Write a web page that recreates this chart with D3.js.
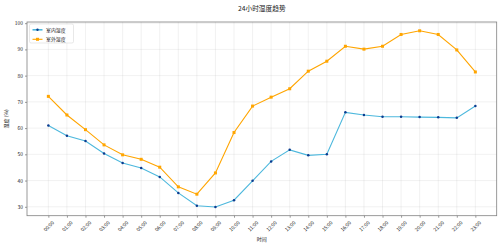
<!DOCTYPE html>
<html><head><meta charset="utf-8">
<script src="https://cdn.jsdelivr.net/npm/d3@7"></script>
<style>body{margin:0;background:#fff}svg{display:block}text{font-family:"Noto Sans CJK SC","DejaVu Sans",sans-serif}</style>
</head><body><svg id="c" width="500" height="248"></svg>
<script>
const hours = ["00:00","01:00","02:00","03:00","04:00","05:00","06:00","07:00","08:00","09:00","10:00","11:00","12:00","13:00","14:00","15:00","16:00","17:00","18:00","19:00","20:00","21:00","22:00","23:00"];
const indoor = [61.0,57.1,55.1,50.3,46.7,44.8,41.4,35.3,30.4,29.9,32.5,39.9,47.3,51.7,49.6,50.0,66.0,65.0,64.3,64.3,64.2,64.1,63.9,68.4];
const outdoor = [72.1,65.0,59.4,53.6,49.8,48.1,45.1,37.6,34.8,42.9,58.3,68.4,71.8,75.0,81.7,85.5,91.2,90.1,91.2,95.7,97.1,95.7,89.8,81.4];
const yTicks = [30,40,50,60,70,80,90,100];
const seriesNames = ["室内湿度","室外湿度"];

const svg = d3.select("#c");
const L=27, R=496.7, T=22, B=215.7;
const x = d3.scaleLinear().domain([-1.15, 23+1.15]).range([L,R]);
const y = d3.scaleLinear().domain([26.6, 100.45]).range([B,T]);

// grid
const g = svg.append("g");
g.selectAll(".gx").data(hours).join("line")
  .attr("x1",(d,i)=>x(i)).attr("x2",(d,i)=>x(i)).attr("y1",T).attr("y2",B)
  .attr("stroke","#b0b0b0").attr("stroke-opacity",0.3).attr("stroke-width",0.6);
g.selectAll(".gy").data(yTicks).join("line")
  .attr("x1",L).attr("x2",R).attr("y1",d=>y(d)).attr("y2",d=>y(d))
  .attr("stroke","#b0b0b0").attr("stroke-opacity",0.3).attr("stroke-width",0.6);

// axes
const xAxis = svg.append("g").attr("transform",`translate(0,${B})`)
  .call(d3.axisBottom(x).tickValues(d3.range(24)).tickFormat(i=>hours[i]).tickSize(2).tickPadding(2));
xAxis.select(".domain").remove();
xAxis.selectAll("line").attr("stroke","#333").attr("stroke-width",0.5);
xAxis.selectAll(".tick text").attr("font-size",5).attr("fill","#222")
  .attr("text-anchor","middle").attr("y",0).attr("dy","0.35em")
  .attr("transform","translate(0,10.5) rotate(-45)");

const yAxis = svg.append("g").attr("transform",`translate(${L},0)`)
  .call(d3.axisLeft(y).tickValues(yTicks).tickSize(2).tickPadding(2));
yAxis.select(".domain").remove();
yAxis.selectAll("line").attr("stroke","#333").attr("stroke-width",0.5);
yAxis.selectAll("text").attr("font-size",4.9).attr("fill","#222");

svg.append("rect").attr("x",L).attr("y",T).attr("width",R-L).attr("height",B-T)
  .attr("fill","none").attr("stroke","#808080").attr("stroke-width",0.8);

// lines
const line = d3.line().x((d,i)=>x(i)).y(d=>y(d));
svg.append("path").datum(indoor).attr("d",line).attr("fill","none").attr("stroke","#4db8dd").attr("stroke-width",1.1);
svg.append("path").datum(outdoor).attr("d",line).attr("fill","none").attr("stroke","#ffa500").attr("stroke-width",1.1);
svg.selectAll(".mi").data(indoor).join("circle")
  .attr("cx",(d,i)=>x(i)).attr("cy",d=>y(d)).attr("r",1.25).attr("fill","#0b3b8f");
svg.selectAll(".mo").data(outdoor).join("rect")
  .attr("x",(d,i)=>x(i)-1.5).attr("y",d=>y(d)-1.5).attr("width",3).attr("height",3).attr("fill","#ffa500");

// title & labels
svg.append("text").attr("x",(L+R)/2).attr("y",10.5).attr("text-anchor","middle")
  .attr("font-size",6.7).attr("fill","#222").text("24小时湿度趋势");
svg.append("text").attr("transform",`translate(8,${(T+B)/2}) rotate(-90)`).attr("text-anchor","middle")
  .attr("font-size",5).attr("fill","#222").text("湿度 (%)");
svg.append("text").attr("x",(L+R)/2).attr("y",241).attr("text-anchor","middle")
  .attr("font-size",5).attr("fill","#222").text("时间");

// legend
const lg = svg.append("g").attr("transform","translate(29.5,24)");
lg.append("rect").attr("width",44).attr("height",19).attr("rx",1.5).attr("fill","#fff").attr("fill-opacity",0.8)
  .attr("stroke","#d0d0d0").attr("stroke-width",0.5);
const cols = [["#4db8dd","#0b3b8f","circle"],["#ffa500","#ffa500","rect"]];
seriesNames.forEach((n,i)=>{
  const yy = 5.8 + i*9.5;
  lg.append("line").attr("x1",3).attr("x2",13).attr("y1",yy).attr("y2",yy).attr("stroke",cols[i][0]).attr("stroke-width",i==0?1.6:1.1);
  if(cols[i][2]=="circle") lg.append("circle").attr("cx",8).attr("cy",yy).attr("r",1.2).attr("fill",cols[i][1]);
  else lg.append("rect").attr("x",6.5).attr("y",yy-1.5).attr("width",3).attr("height",3).attr("fill",cols[i][1]);
  lg.append("text").attr("x",16.5).attr("y",yy).attr("dy","0.35em").attr("font-size",4.9).attr("fill","#222").text(n);
});
</script></body></html>
